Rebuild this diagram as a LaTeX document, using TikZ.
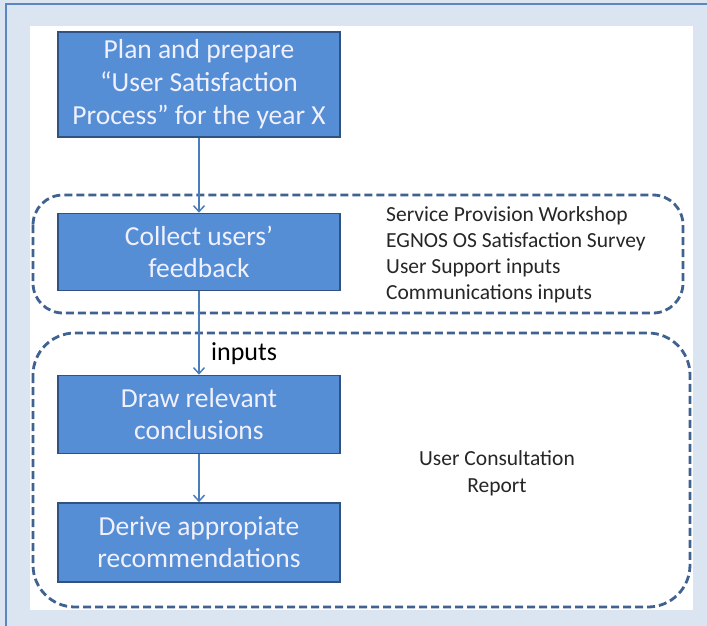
\documentclass[tikz,border=0pt]{standalone}
\usepackage{fontspec}
\setmainfont{Carlito}
\usetikzlibrary{arrows.meta}
\definecolor{bgblue}{HTML}{DBE5F1}
\definecolor{frameblue}{HTML}{5B87C0}
\definecolor{boxfill}{HTML}{558ED5}
\definecolor{boxedge}{HTML}{2F5283}
\definecolor{dashcol}{HTML}{3F6290}
\definecolor{conncol}{HTML}{4A7EBB}
\definecolor{txtcol}{HTML}{262626}
\tikzset{
  stepbox/.style={draw=boxedge, line width=1.6pt, fill=boxfill, text=white!94!blue,
    minimum width=282pt, align=center, inner sep=0pt},
  dashbox/.style={draw=dashcol, line width=2.8pt, dash pattern=on 8pt off 4pt},
  conn/.style={draw=conncol, line width=1.5pt, -{Straight Barb[length=6pt,width=11pt,line width=1.5pt]}},
  sidetext/.style={text=txtcol, align=left, inner sep=0pt},
}
\begin{document}
\begin{tikzpicture}[x=1pt,y=-1pt]
\useasboundingbox (0,0) rectangle (707,626);
\fill[bgblue] (0,0) rectangle (707,626);
\draw[frameblue, line width=2pt] (6,626) -- (6,4) -- (707,4);
\fill[white] (30,26) rectangle (693,610);
% dashed groups
\draw[dashbox, rounded corners=30pt] (33,195) rectangle (683,313);
\draw[dashbox, rounded corners=42pt] (33,333) rectangle (690,607);
% boxes
\node[stepbox, minimum height=105pt, font=\fontsize{27.5}{33}\selectfont] (b1) at (199,84.5)
  {Plan and prepare\\``User Satisfaction\\Process'' for the year X};
\node[stepbox, minimum height=77pt, font=\fontsize{27.5}{32}\selectfont] (b2) at (199,252)
  {Collect users'\\feedback};
\node[stepbox, minimum height=78pt, font=\fontsize{27.5}{32}\selectfont] (b3) at (199,414.5)
  {Draw relevant\\conclusions};
\node[stepbox, minimum height=79pt, font=\fontsize{27.5}{32}\selectfont] (b4) at (199,542.5)
  {Derive appropiate\\recommendations};
% texts
\node[sidetext, anchor=west, font=\fontsize{21.5}{26}\selectfont] (list) at (386,255)
  {Service Provision Workshop\\EGNOS OS Satisfaction Survey\\User Support inputs\\Communications inputs};
\node[sidetext, align=center, font=\fontsize{21.5}{27}\selectfont] (rep) at (497,473)
  {User Consultation\\Report};
\node[sidetext, anchor=west, font=\fontsize{26}{28}\selectfont, text=black] (inp) at (211,354) {inputs};
% connectors
\draw[conn] (b1) -- (b2);
\draw[conn] (b2) -- (b3);
\draw[conn] (b3) -- (b4);
\end{tikzpicture}
\end{document}
